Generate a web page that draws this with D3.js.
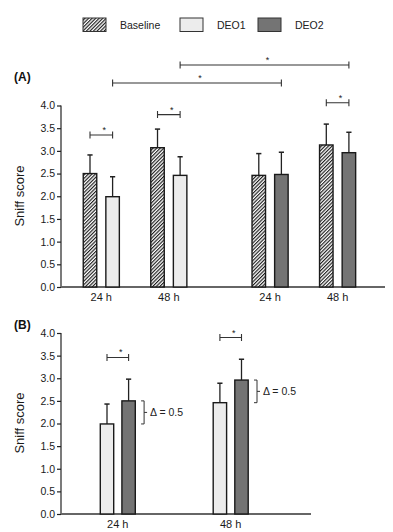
<!DOCTYPE html>
<html><head><meta charset="utf-8">
<script src="https://cdn.jsdelivr.net/npm/d3@7"></script>
<style>body{margin:0;background:#fff}svg{display:block}text{font-family:"Liberation Sans",Arial,sans-serif}</style>
</head><body><svg id="c" width="393" height="532"></svg>
<script>
// ---- data ----
const seriesNames = ["Baseline", "DEO1", "DEO2"];
const timeLabels = ["24 h", "48 h"];
const yTicks = [0, 0.5, 1, 1.5, 2, 2.5, 3, 3.5, 4];
// Panel A: experiment 1 (Baseline vs DEO1), experiment 2 (Baseline vs DEO2)
const aExp1Baseline = [2.5, 3.07];
const aExp1BaselineErr = [0.41, 0.41];
const aExp1DEO1 = [1.99, 2.46];
const aExp1DEO1Err = [0.44, 0.41];
const aExp2Baseline = [2.46, 3.13];
const aExp2BaselineErr = [0.48, 0.46];
const aExp2DEO2 = [2.48, 2.96];
const aExp2DEO2Err = [0.49, 0.45];
// Panel B: DEO1 vs DEO2
const bDEO1 = [1.99, 2.46];
const bDEO1Err = [0.44, 0.43];
const bDEO2 = [2.5, 2.96];
const bDEO2Err = [0.48, 0.46];
const deltaLabels = ["\u0394 = 0.5", "\u0394 = 0.5"];

const svg = d3.select("#c");
const defs = svg.append("defs");
const pat = defs.append("pattern").attr("id","hatch").attr("patternUnits","userSpaceOnUse")
  .attr("width",2.5).attr("height",2.5).attr("patternTransform","rotate(45)");
pat.append("rect").attr("width",2.5).attr("height",2.5).attr("fill","#fff");
pat.append("line").attr("x1",0.6).attr("y1",0).attr("x2",0.6).attr("y2",2.5).attr("stroke","#111").attr("stroke-width",1.1);
const fills = {"Baseline":"url(#hatch)","DEO1":"#ececec","DEO2":"#747474"};

// ---- legend ----
const legX = [83, 180, 258];
seriesNames.forEach((s,i)=>{
  svg.append("rect").attr("x",legX[i]).attr("y",18).attr("width",23).attr("height",13.5)
    .attr("fill",fills[s]).attr("stroke","#333").attr("stroke-width",1);
  svg.append("text").attr("x",legX[i]+37).attr("y",29).attr("font-size",10.5).attr("fill","#222").text(s);
});

function drawPanel(cfg){
  const g = svg.append("g");
  const y = d3.scaleLinear().domain([0,4]).range([cfg.y0, cfg.y4]);
  const ax = g.append("g").attr("transform",`translate(${cfg.axX},0)`)
    .call(d3.axisLeft(y).tickValues(yTicks).tickFormat(d3.format(".1f")).tickSize(4).tickPadding(2));
  ax.select(".domain").attr("d",`M0,${y(4)}V${y(0)}`).attr("stroke","#222").attr("stroke-width",1.2);
  ax.selectAll(".tick line").attr("stroke","#222").attr("stroke-width",1.2);
  ax.selectAll(".tick text").attr("font-size",10.5).attr("fill","#1a1a1a").attr("font-family","Liberation Sans, Arial, sans-serif");
  g.append("line").attr("x1",cfg.axX).attr("x2",cfg.axEnd).attr("y1",y(0)).attr("y2",y(0))
    .attr("stroke","#666").attr("stroke-width",1.8);
  g.append("text").attr("transform",`translate(24,${cfg.labelY}) rotate(-90)`).attr("text-anchor","middle")
    .attr("font-size",13).attr("fill","#1a1a1a").text("Sniff score");
  g.append("text").attr("x",14).attr("y",cfg.panelY).attr("font-size",12).attr("font-weight","bold")
    .attr("fill","#111").text(cfg.panel);
  const x = cfg.x;
  const bars = [];
  cfg.groups.forEach(gr=>{
    gr.series.forEach((s,si)=>{
      gr.values[si].forEach((v,ti)=>{
        const cx = x(gr.slot(ti)) + (si===0?-cfg.off:cfg.off);
        bars.push({cx, v, e: gr.errs[si][ti], s});
      });
    });
  });
  g.selectAll("line.err").data(bars).join("line").attr("class","err")
    .attr("x1",d=>d.cx).attr("x2",d=>d.cx).attr("y1",d=>y(d.v)).attr("y2",d=>y(d.v+d.e))
    .attr("stroke","#222").attr("stroke-width",1.3);
  g.selectAll("line.cap").data(bars).join("line").attr("class","cap")
    .attr("x1",d=>d.cx-2.6).attr("x2",d=>d.cx+2.6).attr("y1",d=>y(d.v+d.e)).attr("y2",d=>y(d.v+d.e))
    .attr("stroke","#222").attr("stroke-width",1.5);
  g.selectAll("rect.bar").data(bars).join("rect").attr("class","bar")
    .attr("x",d=>d.cx-cfg.bw/2).attr("width",cfg.bw).attr("y",d=>y(d.v)).attr("height",d=>y(0)-y(d.v))
    .attr("fill",d=>fills[d.s]).attr("stroke","#1a1a1a").attr("stroke-width",1.4);
  cfg.groups.forEach(gr=>{
    timeLabels.forEach((t,ti)=>{
      g.append("text").attr("x",x(gr.slot(ti))).attr("y",y(0)+14).attr("text-anchor","middle")
        .attr("font-size",11).attr("fill","#1a1a1a").text(t);
    });
  });
  return {g, y, x};
}

function bracket(g, x1, x2, yy){
  g.append("path").attr("d",`M${x1},${yy-3.5}V${yy+3.5}M${x1},${yy}H${x2}M${x2},${yy-3.5}V${yy+3.5}`)
    .attr("fill","none").attr("stroke","#333").attr("stroke-width",1.1);
  g.append("text").attr("x",(x1+x2)/2+3).attr("y",yy-2).attr("text-anchor","middle")
    .attr("font-size",9).attr("fill","#222").text("*");
}

// ---- Panel A ----
const xA = d3.scaleLinear().domain([0,3.5]).range([101.3,337.6]);
const A = drawPanel({
  panel:"(A)", panelY:81, y0:287, y4:105.5, axX:61, axEnd:385, labelY:196, bw:13.5, off:11.3, x:xA,
  groups:[
    {series:["Baseline","DEO1"], values:[aExp1Baseline,aExp1DEO1], errs:[aExp1BaselineErr,aExp1DEO1Err], slot:t=>t},
    {series:["Baseline","DEO2"], values:[aExp2Baseline,aExp2DEO2], errs:[aExp2BaselineErr,aExp2DEO2Err], slot:t=>2.5+t}
  ]
});
const off = 11.3;
bracket(A.g, xA(0)-off, xA(0)+off, A.y(3.35));
bracket(A.g, xA(1)-off, xA(1)+off, A.y(3.8));
bracket(A.g, xA(3.5)-off, xA(3.5)+off, A.y(4.06));
bracket(A.g, xA(1)+off, xA(3.5)+off, 65);
bracket(A.g, xA(0)+off, xA(2.5)+off, 83);

// ---- Panel B ----
const xB = d3.scaleLinear().domain([0,1]).range([117.8,230.7]);
const B = drawPanel({
  panel:"(B)", panelY:329, y0:514, y4:333, axX:61, axEnd:311, labelY:423, bw:13.4, off:10.8, x:xB,
  groups:[
    {series:["DEO1","DEO2"], values:[bDEO1,bDEO2], errs:[bDEO1Err,bDEO2Err], slot:t=>t}
  ]
});
const offB = 10.8;
timeLabels.forEach((t,ti)=>{
  const top = d3.max([bDEO1[ti]+bDEO1Err[ti], bDEO2[ti]+bDEO2Err[ti]]);
  bracket(B.g, xB(ti)-offB, xB(ti)+offB, B.y(top+0.48));
  const bx = xB(ti)+offB+15.5;
  const yTop = B.y(bDEO2[ti]), yBot = B.y(bDEO1[ti]);
  const ym = (yTop+yBot)/2;
  B.g.append("path").attr("d",`M${bx-3},${yTop}H${bx}V${yBot}H${bx-3}M${bx},${ym}H${bx+3}`)
    .attr("fill","none").attr("stroke","#333").attr("stroke-width",1);
  B.g.append("text").attr("x",bx+6).attr("y",ym+4).attr("font-size",10.5).attr("fill","#222").text(deltaLabels[ti]);
});
</script></body></html>
